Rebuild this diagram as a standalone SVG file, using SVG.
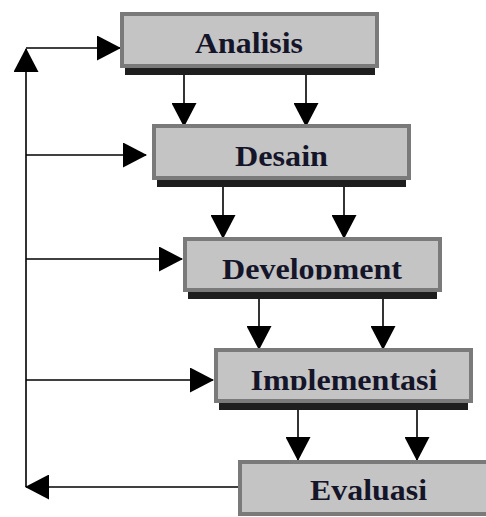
<svg xmlns="http://www.w3.org/2000/svg" width="486" height="517" viewBox="0 0 486 517">
  <style>
    .box { fill: #c4c4c4; stroke: #7a7a7a; stroke-width: 4; }
    .shadow { fill: #1e1e1e; }
    .label { font-family: "Liberation Serif", "Times New Roman", serif; font-weight: bold; font-size: 30px; fill: #15152a; text-anchor: middle; }
    .conn { stroke: #000; stroke-width: 1.6; fill: none; }
  </style>
  <defs>
    <marker id="arrow" markerUnits="userSpaceOnUse" markerWidth="24" markerHeight="25" refX="23" refY="12.5" orient="auto">
      <path d="M0,0 L24,12.5 L0,25 Z" fill="#000"/>
    </marker>
    <clipPath id="clipDev"><rect x="185" y="239" width="255" height="40.5"/></clipPath>
    <clipPath id="clipImp"><rect x="216" y="350" width="255" height="40"/></clipPath>
  </defs>
  <rect width="486" height="517" fill="#fff"/>

  <g id="connectors">
    <path class="conn" d="M26,487 L26,49" marker-end="url(#arrow)"/>
    <path class="conn" d="M26,48 L120,48" marker-end="url(#arrow)"/>
    <path class="conn" d="M26,155 L146,155" marker-end="url(#arrow)"/>
    <path class="conn" d="M26,259 L182,259" marker-end="url(#arrow)"/>
    <path class="conn" d="M26,380 L213,380" marker-end="url(#arrow)"/>
    <path class="conn" d="M238,487 L26,487" marker-end="url(#arrow)"/>
    <path class="conn" d="M184,75 L184,126" marker-end="url(#arrow)"/>
    <path class="conn" d="M306,68 L306,126" marker-end="url(#arrow)"/>
    <path class="conn" d="M223,187 L223,238" marker-end="url(#arrow)"/>
    <path class="conn" d="M344,180 L344,238" marker-end="url(#arrow)"/>
    <path class="conn" d="M259,299 L259,349" marker-end="url(#arrow)"/>
    <path class="conn" d="M383,292 L383,349" marker-end="url(#arrow)"/>
    <path class="conn" d="M298,410 L298,460" marker-end="url(#arrow)"/>
    <path class="conn" d="M417,403 L417,460" marker-end="url(#arrow)"/>
  </g>

  <g id="analisis">
    <rect class="shadow" x="125" y="66" width="250" height="9"/>
    <rect class="box" x="122" y="14" width="255" height="52"/>
    <text class="label" x="249" y="53" textLength="108" lengthAdjust="spacingAndGlyphs">Analisis</text>
  </g>

  <g id="desain">
    <rect class="shadow" x="157" y="178" width="249" height="9"/>
    <rect class="box" x="154" y="126" width="255" height="52"/>
    <text class="label" x="281.5" y="166" textLength="93" lengthAdjust="spacingAndGlyphs">Desain</text>
  </g>

  <g id="development">
    <rect class="shadow" x="188" y="290" width="249" height="9"/>
    <rect class="box" x="185" y="239" width="255" height="51"/>
    <text class="label" x="312" y="279" textLength="180" lengthAdjust="spacingAndGlyphs" clip-path="url(#clipDev)">Development</text>
  </g>

  <g id="implementasi">
    <rect class="shadow" x="219" y="401" width="249" height="9"/>
    <rect class="box" x="216" y="350" width="255" height="51"/>
    <text class="label" x="344" y="390" textLength="187" lengthAdjust="spacingAndGlyphs" clip-path="url(#clipImp)">Implementasi</text>
  </g>

  <g id="evaluasi">
    <rect class="box" x="240" y="462" width="250" height="52"/>
    <text class="label" x="368.5" y="500" textLength="117" lengthAdjust="spacingAndGlyphs">Evaluasi</text>
  </g>
</svg>
